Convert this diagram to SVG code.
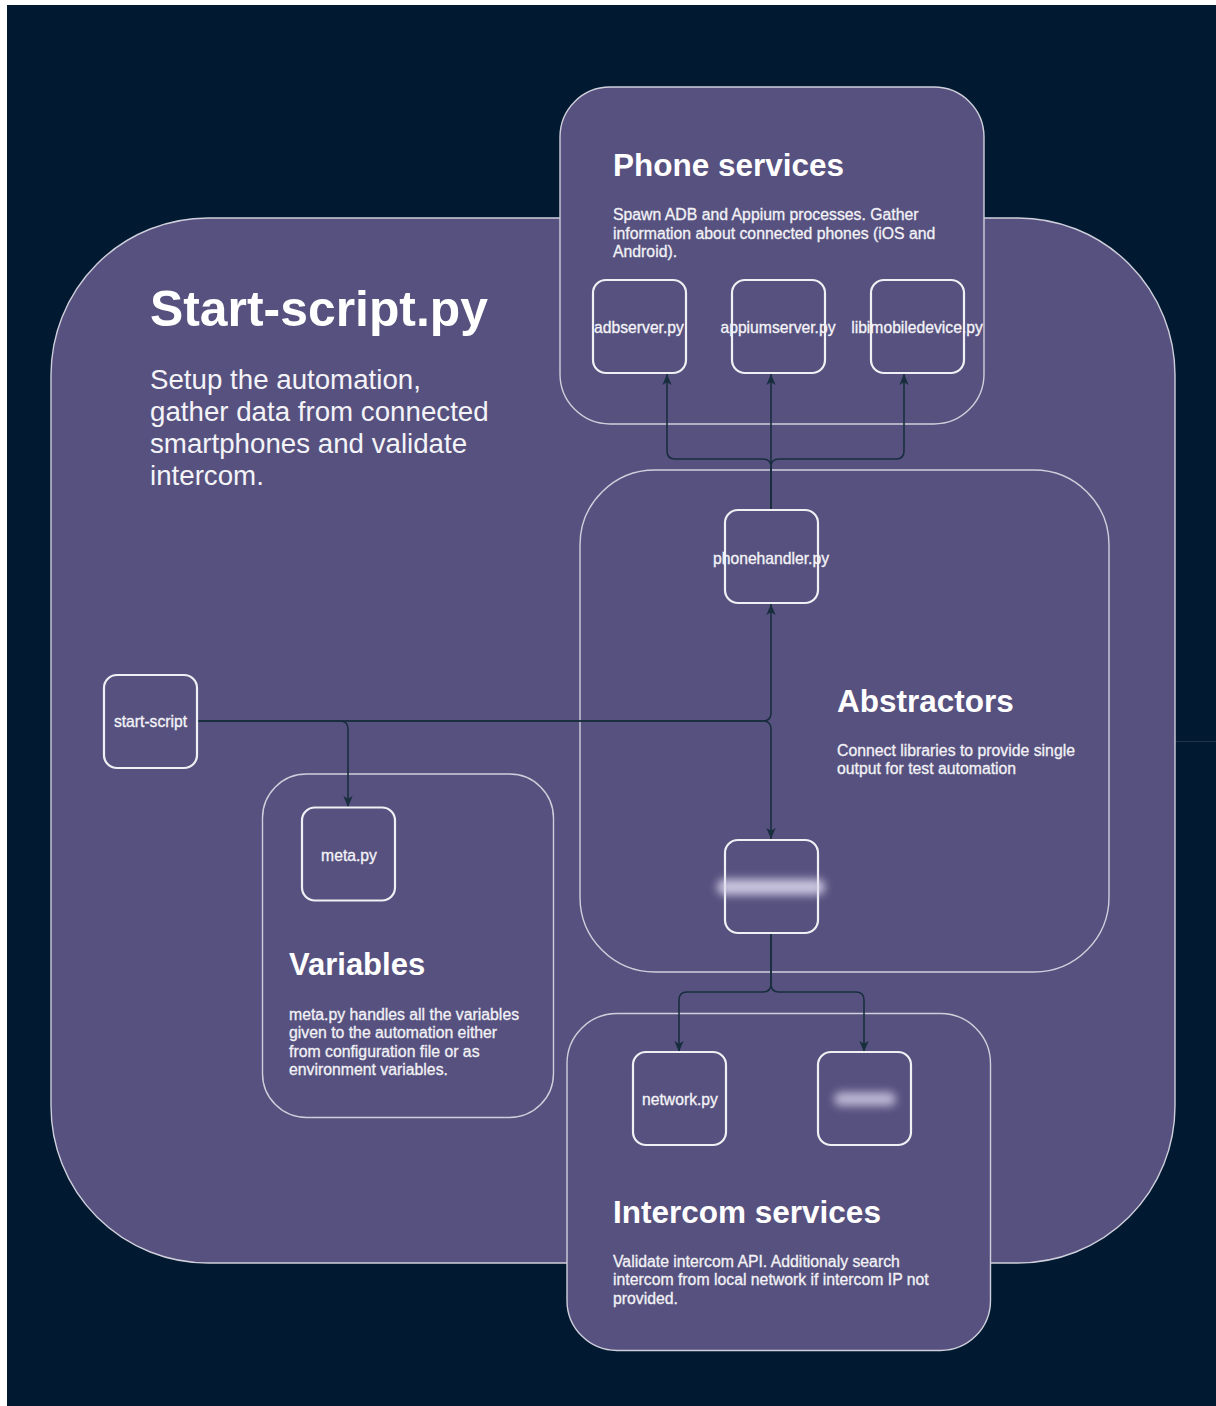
<svg xmlns="http://www.w3.org/2000/svg" width="1216" height="1406" viewBox="0 0 1216 1406">
  <style>
    .container { fill: #57517f; stroke: #cfcfdc; stroke-width: 1.4; }
    .node { fill: #57517f; stroke: #f0f0f4; stroke-width: 2.2; }
    .edge { fill: none; stroke: #182e3e; stroke-width: 1.6; }
    .title { font-family: "Liberation Sans", Arial, Helvetica, sans-serif; font-weight: bold; fill: #ffffff; }
    .desc { font-family: "Liberation Sans", Arial, Helvetica, sans-serif; fill: #f2f2f6; stroke: #f2f2f6; stroke-width: 0.3; }
    .lead { font-family: "Liberation Sans", Arial, Helvetica, sans-serif; fill: #f4f4f8; }
    .label { font-family: "Liberation Sans", Arial, Helvetica, sans-serif; fill: #f4f4f8; stroke: #f4f4f8; stroke-width: 0.3; font-size: 15.7px; text-anchor: middle; }
  </style>
  <defs>
    <marker id="arrow" viewBox="0 0 10 10" refX="10" refY="5" markerWidth="11" markerHeight="11" markerUnits="userSpaceOnUse" orient="auto">
      <path d="M0,0.8 L10,5 L0,9.2 L2.6,5 Z" fill="#182e3e"/>
    </marker>
    <filter id="smudge" x="-40%" y="-300%" width="180%" height="700%">
      <feGaussianBlur stdDeviation="4"/>
    </filter>
  </defs>

  <!-- page -->
  <rect x="0" y="0" width="1216" height="1406" fill="#ffffff"/>
  <rect x="7" y="5" width="1209" height="1401" fill="#011a31"/>
  <path d="M1175,741.5 H1216" stroke="#23334a" stroke-width="1"/>

  <!-- outer container -->
  <g id="start-script-py">
    <rect class="container" x="51" y="218" width="1124" height="1045" rx="157" ry="157"/>
    <text class="title" x="150" y="326" font-size="49.5" textLength="338" lengthAdjust="spacingAndGlyphs">Start-script.py</text>
    <text class="lead" font-size="27.7">
      <tspan x="150" y="388.5">Setup the automation,</tspan>
      <tspan x="150" y="420.8">gather data from connected</tspan>
      <tspan x="150" y="453">smartphones and validate</tspan>
      <tspan x="150" y="485.3">intercom.</tspan>
    </text>
  </g>

  <g id="phone-services">
    <rect class="container" x="560" y="87" width="424" height="337" rx="50" ry="50"/>
    <text class="title" x="613" y="176" font-size="31.5">Phone services</text>
    <text class="desc" font-size="15.8">
      <tspan x="613" y="220">Spawn ADB and Appium processes. Gather</tspan>
      <tspan x="613" y="238.7">information about connected phones (iOS and</tspan>
      <tspan x="613" y="257">Android).</tspan>
    </text>
  </g>

  <g id="abstractors">
    <rect class="container" x="580" y="470" width="529" height="502" rx="75" ry="75"/>
    <text class="title" x="837" y="711.7" font-size="31.5">Abstractors</text>
    <text class="desc" font-size="15.8">
      <tspan x="837" y="756">Connect libraries to provide single</tspan>
      <tspan x="837" y="774.3">output for test automation</tspan>
    </text>
  </g>

  <g id="variables">
    <rect class="container" x="262.5" y="774" width="291" height="343.5" rx="44" ry="44"/>
    <text class="title" x="289" y="975" font-size="31">Variables</text>
    <text class="desc" font-size="15.8">
      <tspan x="289" y="1019.5">meta.py handles all the variables</tspan>
      <tspan x="289" y="1038">given to the automation either</tspan>
      <tspan x="289" y="1056.5">from configuration file or as</tspan>
      <tspan x="289" y="1075">environment variables.</tspan>
    </text>
  </g>

  <g id="intercom-services">
    <rect class="container" x="567" y="1013.5" width="423.5" height="337" rx="50" ry="50"/>
    <text class="title" x="613" y="1223" font-size="31.5">Intercom services</text>
    <text class="desc" font-size="15.8">
      <tspan x="613" y="1266.7">Validate intercom API. Additionaly search</tspan>
      <tspan x="613" y="1285.2">intercom from local network if intercom IP not</tspan>
      <tspan x="613" y="1303.7">provided.</tspan>
    </text>
  </g>

  <!-- connectors -->
  <g id="connectors">
    <path class="edge" d="M197,721 H340 Q348,721 348,729 V807" marker-end="url(#arrow)"/>
    <path class="edge" d="M197,721 H763 Q771,721 771,713 V604" marker-end="url(#arrow)"/>
    <path class="edge" d="M197,721 H763 Q771,721 771,729 V839" marker-end="url(#arrow)"/>
    <path class="edge" d="M771,509 V467 Q771,459 763,459 H675 Q667,459 667,451 V374" marker-end="url(#arrow)"/>
    <path class="edge" d="M771,509 V374" marker-end="url(#arrow)"/>
    <path class="edge" d="M771,509 V467 Q771,459 779,459 H896 Q904,459 904,451 V374" marker-end="url(#arrow)"/>
    <path class="edge" d="M771,933 V984 Q771,992 763,992 H687 Q679,992 679,1000 V1052" marker-end="url(#arrow)"/>
    <path class="edge" d="M771,933 V984 Q771,992 779,992 H856 Q864,992 864,1000 V1052" marker-end="url(#arrow)"/>
  </g>

  <!-- file nodes -->
  <g id="adbserver">
    <rect class="node" x="593" y="280" width="93" height="93" rx="13" ry="13"/>
    <text class="label" x="639" y="332.5">adbserver.py</text>
  </g>
  <g id="appiumserver">
    <rect class="node" x="732" y="280" width="93" height="93" rx="13" ry="13"/>
    <text class="label" x="778" y="332.5">appiumserver.py</text>
  </g>
  <g id="libimobiledevice">
    <rect class="node" x="871" y="280" width="93" height="93" rx="13" ry="13"/>
    <text class="label" x="917" y="332.5">libimobiledevice.py</text>
  </g>
  <g id="phonehandler">
    <rect class="node" x="725" y="510" width="93" height="93" rx="13" ry="13"/>
    <text class="label" x="771" y="563.5">phonehandler.py</text>
  </g>
  <g id="start-script">
    <rect class="node" x="104" y="675" width="93" height="93" rx="13" ry="13"/>
    <text class="label" x="150.5" y="726.5">start-script</text>
  </g>
  <g id="meta">
    <rect class="node" x="302" y="807.5" width="93" height="93" rx="13" ry="13"/>
    <text class="label" x="349" y="860.5">meta.py</text>
  </g>
  <g id="intercom-handler">
    <rect class="node" x="725" y="840" width="93" height="93" rx="13" ry="13"/>
    <rect x="717" y="879" width="108" height="16" rx="8" fill="#ddd8ee" opacity="0.85" filter="url(#smudge)"/>
  </g>
  <g id="network">
    <rect class="node" x="633" y="1052" width="93" height="93" rx="13" ry="13"/>
    <text class="label" x="680" y="1104.5">network.py</text>
  </g>
  <g id="intercom-client">
    <rect class="node" x="818" y="1052" width="93" height="93" rx="13" ry="13"/>
    <rect x="834" y="1092" width="62" height="14" rx="7" fill="#d4cfe8" opacity="0.8" filter="url(#smudge)"/>
  </g>
</svg>
